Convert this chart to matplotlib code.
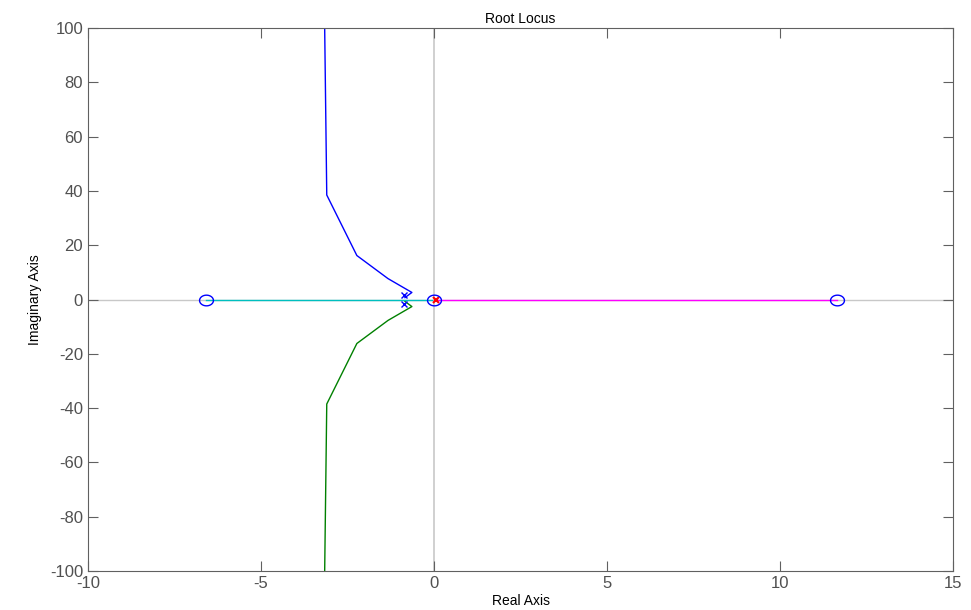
import numpy as np
import matplotlib
matplotlib.use('Agg')
from matplotlib import pyplot as plt

plt.rcParams['font.family'] = ['Liberation Sans', 'DejaVu Sans']
plt.rcParams['axes.unicode_minus'] = False

# ramas complejas (parte superior), la inferior es el conjugado
branch_re = [-0.84, -0.64, -1.33, -2.23, -3.10, -3.16]
branch_im = [0.7, 2.6, 7.7, 16.2, 38.5, 100.0]

# ramas sobre el eje real
cyan_re = [-6.59, -0.05]
magenta_re = [0.0, 11.65]

poles_re = [-0.88, -0.88]
poles_im = [1.8, -1.8]
origin_pole = [0.05]
zeros_re = [-6.59, 0.0, 11.65]

fig = plt.figure(figsize=(9.71, 6.10), dpi=100)
ax = fig.add_axes([0.0906, 0.064, 0.891, 0.890])

grey = '#c8c8c8'
ax.axhline(0, color=grey, lw=1, zorder=0)
ax.axvline(0, color=grey, lw=1.2, zorder=0)

ax.plot(branch_re, branch_im, color='blue', lw=1)
ax.plot(branch_re, -np.array(branch_im), color='green', lw=1)
ax.plot(cyan_re, [0, 0], color='#00bfbf', lw=1)
ax.plot(magenta_re, [0, 0], color='magenta', lw=1)

# circulo un poco achatado como en matlab
t = np.linspace(0, 2 * np.pi, 40)
ellipse = list(zip(1.3 * np.cos(t), np.sin(t)))

ax.plot(poles_re, poles_im, 'x', color='blue', ms=5, mew=1)
ax.plot(origin_pole, [0], 'x', color='red', ms=5, mew=1.5)
ax.plot(zeros_re, [0, 0, 0], marker=ellipse, ls='none', mfc='none', mec='blue', ms=10, mew=1)

ax.set_xlim(-10, 15)
ax.set_ylim(-100, 100)
ax.set_xticks(np.arange(-10, 16, 5))
ax.set_yticks(np.arange(-100, 101, 20))

for s in ax.spines.values():
    s.set_color('#606060')
ax.tick_params(direction='in', top=True, right=True, length=7, width=0.8,
               colors='#606060', labelsize=12, labelcolor='#505050')

ax.set_title('Root Locus', fontsize=10, pad=4)
ax.set_xlabel('Real Axis', fontsize=10, labelpad=2)
ax.set_ylabel('Imaginary Axis', fontsize=10, labelpad=6)

fig.savefig('out.png', dpi=100)
